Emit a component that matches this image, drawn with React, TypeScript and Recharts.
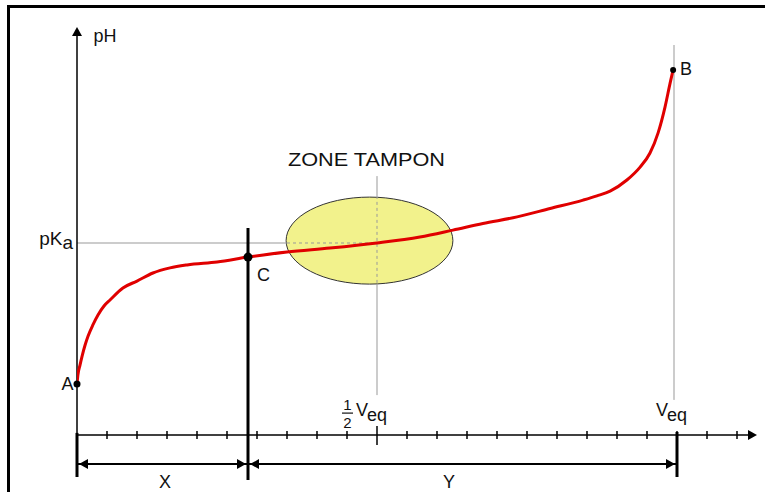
import React from 'react';
import {
  ComposedChart,
  Line,
  XAxis,
  YAxis,
  ReferenceLine,
  ReferenceDot,
  ReferenceArea,
} from 'recharts';

// ---- data (volume in tick units, pH in arbitrary units) ----
const volume = [
  0, 0.03, 0.1, 0.17, 0.27, 0.37, 0.53, 0.7, 0.9, 1.1, 1.53, 2.0, 2.53, 3.1, 3.67, 4.67, 5.7,
  7.0, 8.43, 10.0, 11.43, 12.53, 13.53, 14.67, 15.77, 16.87, 17.33, 17.77, 18.33, 18.77, 19.1,
  19.37, 19.6, 19.77, 19.87,
];
const phValues = [
  1.7, 2.0, 2.33, 2.63, 3.0, 3.3, 3.67, 4.0, 4.3, 4.5, 4.9, 5.13, 5.4, 5.57, 5.67, 5.77, 5.93,
  6.1, 6.23, 6.4, 6.6, 6.83, 7.05, 7.27, 7.55, 7.83, 7.97, 8.13, 8.5, 8.93, 9.4, 10.07, 10.93,
  11.73, 12.17,
];
const xTicks = [1, 2, 3, 4, 5, 6, 7, 8, 9, 10, 11, 12, 13, 14, 15, 16, 17, 18, 19, 20, 21, 22];

const X_MAX = 680 / 30;
const Y_MAX = 406 / 30;
const V_EQ = 20;
const V_HALF = 10;
const V_C = 5.7;
const V_B_LINE = 19.9;
const PKA = 6.4;
const pointA = { v: 0, ph: 1.7 };
const pointB = { v: 19.87, ph: 12.17 };
const pointC = { v: 5.7, ph: 5.93 };
const ellipseX = [6.97, 12.53];
const ellipseY = [5.03, 7.93];
const dimY = -0.97;
const labelPoints = {
  pH: { v: 0.55, ph: 13.1 },
  zone: { v: 9.65, ph: 8.97 },
  A: { v: -0.12, ph: 1.5 },
  B: { v: 20.1, ph: 12.0 },
  C: { v: 6.0, ph: 5.13 },
  pKa: { v: -0.13, ph: 6.33 },
  half: { v: 9.3, ph: 0.63 },
  veq: { v: 19.3, ph: 0.63 },
  X: { v: 2.93, ph: -1.77 },
  Y: { v: 12.4, ph: -1.77 },
};

const data = volume.map((v, i) => ({ v, ph: phValues[i] }));

const FONT = '"Liberation Sans", Arial, sans-serif';

const arrow = (dir: 'left' | 'right' | 'up', gap = 0, len = 9, half = 5) => (p: any) => {
  const { cx, cy } = p;
  let pts = '';
  if (dir === 'left') {
    const t = cx + gap;
    pts = `${t},${cy} ${t + len},${cy - half} ${t + len},${cy + half}`;
  } else if (dir === 'right') {
    const t = cx - gap;
    pts = `${t},${cy} ${t - len},${cy - half} ${t - len},${cy + half}`;
  } else {
    const t = cy - gap;
    pts = `${cx},${t} ${cx - half},${t + len} ${cx + half},${t + len}`;
  }
  return <polygon points={pts} fill="#000" />;
};

const textShape =
  (content: React.ReactNode, opts: { size?: number; anchor?: string; length?: number } = {}) =>
  (p: any) => (
    <text
      x={p.cx}
      y={p.cy}
      fontFamily={FONT}
      fontSize={opts.size ?? 17}
      textAnchor={opts.anchor ?? 'start'}
      fill="#111"
      textLength={opts.length}
      lengthAdjust={opts.length ? 'spacingAndGlyphs' : undefined}
    >
      {content}
    </text>
  );

const halfVeqShape = (p: any) => {
  const { cx, cy } = p;
  return (
    <g fontFamily={FONT} fill="#111">
      <text x={cx - 8.5} y={cy - 6} fontSize={15} textAnchor="middle">1</text>
      <line x1={cx - 14} x2={cx - 3} y1={cy - 3} y2={cy - 3} stroke="#111" strokeWidth={1.2} />
      <text x={cx - 8.5} y={cy + 12} fontSize={15} textAnchor="middle">2</text>
      <text x={cx} y={cy} fontSize={18}>
        V<tspan dy={5}>eq</tspan>
      </text>
    </g>
  );
};

const ellipseShape = (p: any) => (
  <ellipse
    cx={p.x + p.width / 2}
    cy={p.y + p.height / 2}
    rx={p.width / 2}
    ry={Math.abs(p.height) / 2}
    fill="#f2f28c"
    stroke="#333"
    strokeWidth={1}
  />
);

const seg = (x1: number, y1: number, x2: number, y2: number) => [
  { x: x1, y: y1 },
  { x: x2, y: y2 },
];

export default function App() {
  return (
    <div style={{ position: 'absolute', left: 0, top: 0, width: 765, height: 492, background: '#fff' }}>
      <div
        style={{
          position: 'absolute',
          left: 7,
          top: 5,
          width: 758,
          height: 487,
          borderTop: '3px solid #000',
          borderLeft: '3px solid #000',
          boxSizing: 'border-box',
        }}
      />
      <div style={{ position: 'absolute', left: 0, top: 0 }}>
        <ComposedChart
          width={765}
          height={492}
          data={data}
          margin={{ top: 29, right: 8, left: 77, bottom: 57 }}
        >
          <XAxis type="number" dataKey="v" domain={[0, X_MAX]} allowDataOverflow hide />
          <YAxis type="number" domain={[0, Y_MAX]} allowDataOverflow hide />

          {/* buffer zone ellipse */}
          <ReferenceArea
            x1={ellipseX[0]}
            x2={ellipseX[1]}
            y1={ellipseY[0]}
            y2={ellipseY[1]}
            shape={ellipseShape}
            ifOverflow="visible"
          />

          {/* guide lines */}
          <ReferenceLine segment={seg(0, PKA, 7.0, PKA)} stroke="#999" strokeWidth={1} ifOverflow="visible" />
          <ReferenceLine segment={seg(7.0, PKA, V_HALF, PKA)} stroke="#999" strokeDasharray="3 3" strokeWidth={1} ifOverflow="visible" />
          <ReferenceLine segment={seg(V_HALF, 8.63, V_HALF, 7.97)} stroke="#999" strokeWidth={1} ifOverflow="visible" />
          <ReferenceLine segment={seg(V_HALF, 7.97, V_HALF, 5.03)} stroke="#999" strokeDasharray="3 3" strokeWidth={1} ifOverflow="visible" />
          <ReferenceLine segment={seg(V_HALF, 5.03, V_HALF, 1.33)} stroke="#999" strokeWidth={1} ifOverflow="visible" />
          <ReferenceLine segment={seg(V_B_LINE, 13.0, V_B_LINE, 1.17)} stroke="#999" strokeWidth={1} ifOverflow="visible" />

          {/* axes */}
          <ReferenceLine segment={seg(0, 0, 0, Y_MAX - 0.1)} stroke="#000" strokeWidth={1.5} ifOverflow="visible" />
          <ReferenceLine segment={seg(0, 0, X_MAX - 0.2, 0)} stroke="#000" strokeWidth={1.5} ifOverflow="visible" />
          {xTicks.map((t) => (
            <ReferenceLine
              key={`t${t}`}
              segment={t === V_HALF ? seg(t, 0.3, t, -0.33) : seg(t, 0.13, t, -0.13)}
              stroke="#000"
              strokeWidth={1.5}
              ifOverflow="visible"
            />
          ))}

          {/* thick bars and dimension lines */}
          <ReferenceLine segment={seg(0, 0.07, 0, -1.4)} stroke="#000" strokeWidth={3} ifOverflow="visible" />
          <ReferenceLine segment={seg(V_C, 6.9, V_C, -1.5)} stroke="#000" strokeWidth={3} ifOverflow="visible" />
          <ReferenceLine segment={seg(V_EQ, 0.1, V_EQ, -1.4)} stroke="#000" strokeWidth={3} ifOverflow="visible" />
          <ReferenceLine segment={seg(0, dimY, V_C, dimY)} stroke="#000" strokeWidth={2} ifOverflow="visible" />
          <ReferenceLine segment={seg(V_C, dimY, V_EQ, dimY)} stroke="#000" strokeWidth={2} ifOverflow="visible" />

          <Line
            type="monotone"
            dataKey="ph"
            stroke="#e00000"
            strokeWidth={3}
            dot={false}
            activeDot={false}
            isAnimationActive={false}
          />

          {/* arrowheads */}
          <ReferenceDot x={X_MAX} y={0} r={1} shape={arrow('right', 0)} ifOverflow="visible" />
          <ReferenceDot x={0} y={Y_MAX} r={1} shape={arrow('up', 2)} ifOverflow="visible" />
          <ReferenceDot x={0} y={dimY} r={1} shape={arrow('left', 2)} ifOverflow="visible" />
          <ReferenceDot x={V_C} y={dimY} r={1} shape={arrow('right', 2)} ifOverflow="visible" />
          <ReferenceDot x={V_C} y={dimY} r={1} shape={arrow('left', 2)} ifOverflow="visible" />
          <ReferenceDot x={V_EQ} y={dimY} r={1} shape={arrow('right', 2)} ifOverflow="visible" />

          {/* points */}
          <ReferenceDot x={pointA.v} y={pointA.ph} r={3.5} fill="#000" stroke="none" ifOverflow="visible" />
          <ReferenceDot x={pointB.v} y={pointB.ph} r={3} fill="#000" stroke="none" ifOverflow="visible" />
          <ReferenceDot x={pointC.v} y={pointC.ph} r={4.5} fill="#000" stroke="none" ifOverflow="visible" />

          {/* labels */}
          <ReferenceDot x={labelPoints.pH.v} y={labelPoints.pH.ph} r={1} shape={textShape('pH', { size: 18 })} ifOverflow="visible" />
          <ReferenceDot
            x={labelPoints.zone.v}
            y={labelPoints.zone.ph}
            r={1}
            shape={textShape('ZONE TAMPON', { size: 19, anchor: 'middle', length: 157 })}
            ifOverflow="visible"
          />
          <ReferenceDot x={labelPoints.A.v} y={labelPoints.A.ph} r={1} shape={textShape('A', { size: 18, anchor: 'end' })} ifOverflow="visible" />
          <ReferenceDot x={labelPoints.B.v} y={labelPoints.B.ph} r={1} shape={textShape('B', { size: 18 })} ifOverflow="visible" />
          <ReferenceDot x={labelPoints.C.v} y={labelPoints.C.ph} r={1} shape={textShape('C', { size: 18 })} ifOverflow="visible" />
          <ReferenceDot
            x={labelPoints.pKa.v}
            y={labelPoints.pKa.ph}
            r={1}
            shape={textShape(
              <>
                pK<tspan dy={4}>a</tspan>
              </>,
              { size: 19, anchor: 'end' }
            )}
            ifOverflow="visible"
          />
          <ReferenceDot x={labelPoints.half.v} y={labelPoints.half.ph} r={1} shape={halfVeqShape} ifOverflow="visible" />
          <ReferenceDot
            x={labelPoints.veq.v}
            y={labelPoints.veq.ph}
            r={1}
            shape={textShape(
              <>
                V<tspan dy={5}>eq</tspan>
              </>,
              { size: 18 }
            )}
            ifOverflow="visible"
          />
          <ReferenceDot x={labelPoints.X.v} y={labelPoints.X.ph} r={1} shape={textShape('X', { size: 18, anchor: 'middle' })} ifOverflow="visible" />
          <ReferenceDot x={labelPoints.Y.v} y={labelPoints.Y.ph} r={1} shape={textShape('Y', { size: 18, anchor: 'middle' })} ifOverflow="visible" />
        </ComposedChart>
      </div>
    </div>
  );
}
